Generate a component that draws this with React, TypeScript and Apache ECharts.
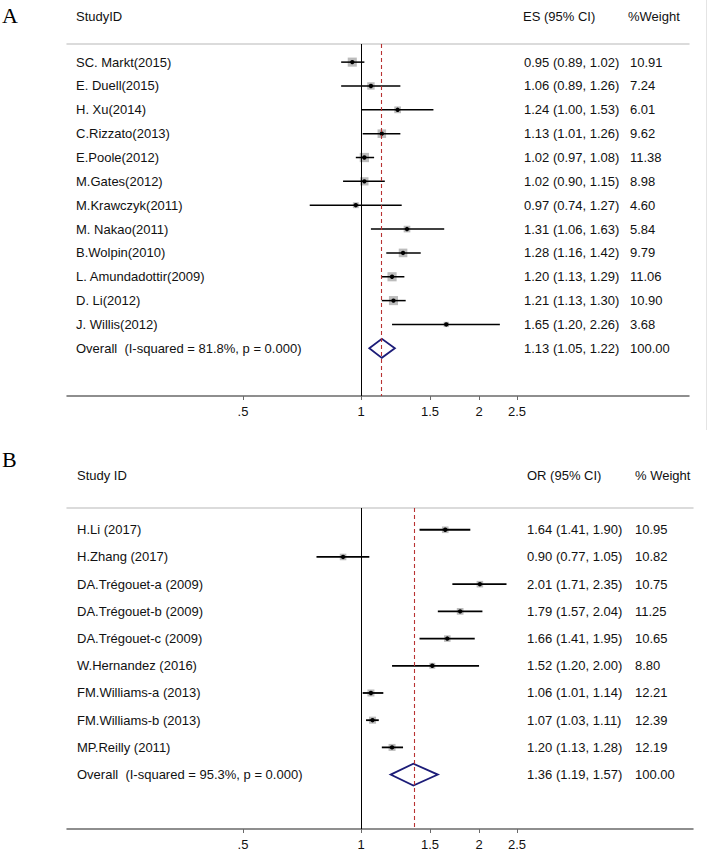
import { useEffect, useRef } from 'react';
import * as echarts from 'echarts';

// ---------- Panel A data ----------
const studiesA = [
  'SC. Markt(2015)',
  'E. Duell(2015)',
  'H. Xu(2014)',
  'C.Rizzato(2013)',
  'E.Poole(2012)',
  'M.Gates(2012)',
  'M.Krawczyk(2011)',
  'M. Nakao(2011)',
  'B.Wolpin(2010)',
  'L. Amundadottir(2009)',
  'D. Li(2012)',
  'J. Willis(2012)',
];
const esA = [0.95, 1.06, 1.24, 1.13, 1.02, 1.02, 0.97, 1.31, 1.28, 1.2, 1.21, 1.65];
const loA = [0.89, 0.89, 1.0, 1.01, 0.97, 0.9, 0.74, 1.06, 1.16, 1.13, 1.13, 1.2];
const hiA = [1.02, 1.26, 1.53, 1.26, 1.08, 1.15, 1.27, 1.63, 1.42, 1.29, 1.3, 2.26];
const weightA = [10.91, 7.24, 6.01, 9.62, 11.38, 8.98, 4.6, 5.84, 9.79, 11.06, 10.9, 3.68];
const overallLabelA = 'Overall  (I-squared = 81.8%, p = 0.000)';
const overallA = [1.13, 1.05, 1.22, 100.0];

// ---------- Panel B data ----------
const studiesB = [
  'H.Li (2017)',
  'H.Zhang (2017)',
  'DA.Trégouet-a (2009)',
  'DA.Trégouet-b (2009)',
  'DA.Trégouet-c (2009)',
  'W.Hernandez (2016)',
  'FM.Williams-a (2013)',
  'FM.Williams-b (2013)',
  'MP.Reilly (2011)',
];
const esB = [1.64, 0.9, 2.01, 1.79, 1.66, 1.52, 1.06, 1.07, 1.2];
const loB = [1.41, 0.77, 1.71, 1.57, 1.41, 1.2, 1.01, 1.03, 1.13];
const hiB = [1.9, 1.05, 2.35, 2.04, 1.95, 2.0, 1.14, 1.11, 1.28];
const weightB = [10.95, 10.82, 10.75, 11.25, 10.65, 8.8, 12.21, 12.39, 12.19];
const overallLabelB = 'Overall  (I-squared = 95.3%, p = 0.000)';
const overallB = [1.36, 1.19, 1.57, 100.0];

// ---------- axis ticks ----------
const tickValues = [0.5, 1, 1.5, 2, 2.5];
const tickLabels = ['.5', '1', '1.5', '2', '2.5'];

const FONT = '"Liberation Sans", Arial, Helvetica, sans-serif';
const TEXT_COLOR = '#111111';

type Row = {
  label: string;
  es: number;
  lo: number;
  hi: number;
  w: number;
  overall: boolean;
};

function buildRows(
  studies: string[],
  es: number[],
  lo: number[],
  hi: number[],
  w: number[],
  ovLabel: string,
  ov: number[]
): Row[] {
  const rows: Row[] = studies.map((s, i) => ({
    label: s,
    es: es[i],
    lo: lo[i],
    hi: hi[i],
    w: w[i],
    overall: false,
  }));
  rows.push({ label: ovLabel, es: ov[0], lo: ov[1], hi: ov[2], w: ov[3], overall: true });
  return rows;
}

function txt(text: string, x: number, y: number) {
  return {
    type: 'text',
    style: {
      text,
      x,
      y,
      fill: TEXT_COLOR,
      fontSize: 13,
      fontFamily: FONT,
      align: 'left',
      verticalAlign: 'middle',
      textAlign: 'left',
      textVerticalAlign: 'middle',
    },
  };
}

function makeRenderItem(
  rows: Row[],
  cfg: { labelX: number; esX: number; wX: number; boxK: number; ciWidth: number }
) {
  return (params: any, api: any) => {
    const row = rows[params.dataIndex];
    const i = api.value(0);
    const cs = params.coordSys;
    const pC = api.coord([api.value(1), i]);
    const pL = api.coord([api.value(2), i]);
    const pH = api.coord([api.value(3), i]);
    const y = pC[1];
    const children: any[] = [];
    children.push(txt(row.label, cs.x + cfg.labelX, y));
    children.push(
      txt(
        `${row.es.toFixed(2)} (${row.lo.toFixed(2)}, ${row.hi.toFixed(2)})`,
        cs.x + cfg.esX,
        y
      )
    );
    children.push(txt(row.w.toFixed(2), cs.x + cfg.wX, y));
    if (row.overall) {
      const h = api.size([0, 0.4])[1];
      children.push({
        type: 'polygon',
        shape: {
          points: [
            [pL[0], y],
            [pC[0], y - h],
            [pH[0], y],
            [pC[0], y + h],
          ],
        },
        style: { fill: 'none', stroke: '#1c1c78', lineWidth: 1.8 },
      });
    } else {
      const s = cfg.boxK * Math.sqrt(api.value(4));
      children.push({
        type: 'rect',
        shape: { x: pC[0] - s / 2, y: y - s / 2, width: s, height: s },
        style: { fill: '#bcbcbc' },
      });
      children.push({
        type: 'line',
        shape: { x1: pL[0], y1: y, x2: pH[0], y2: y },
        style: { stroke: '#000', lineWidth: cfg.ciWidth },
      });
      children.push({
        type: 'circle',
        shape: { cx: pC[0], cy: y, r: 2.2 },
        style: { fill: '#000' },
      });
    }
    return { type: 'group', children };
  };
}

const LN_MIN = -1.7264;
const LN_MAX_A = 1.926;
const LN_MAX_B = 1.9495;

function bottomAxis(gridIndex: number, max: number) {
  const lnTicks = tickValues.map((v) => Math.log(v));
  return {
    type: 'value',
    gridIndex,
    position: 'bottom',
    min: LN_MIN,
    max,
    splitLine: { show: false },
    axisLine: { show: true, onZero: false, lineStyle: { color: '#6a6a6a', width: 1.5 } },
    axisTick: {
      show: true,
      customValues: lnTicks,
      length: 4,
      lineStyle: { color: '#6a6a6a', width: 1 },
    },
    axisLabel: {
      show: true,
      customValues: lnTicks,
      margin: 9,
      color: TEXT_COLOR,
      fontSize: 13,
      fontFamily: FONT,
      formatter: (v: number) => {
        const k = lnTicks.findIndex((t) => Math.abs(t - v) < 1e-6);
        return k >= 0 ? tickLabels[k] : '';
      },
    },
  };
}

function topAxis(gridIndex: number, max: number) {
  return {
    type: 'value',
    gridIndex,
    position: 'top',
    min: LN_MIN,
    max,
    splitLine: { show: false },
    axisLine: { show: true, onZero: false, lineStyle: { color: '#cfcfcf', width: 1.5 } },
    axisTick: { show: false },
    axisLabel: { show: false },
  };
}

function seriesFor(
  rows: Row[],
  xAxisIndex: number,
  yAxisIndex: number,
  cfg: { labelX: number; esX: number; wX: number; boxK: number; ciWidth: number }
) {
  const overall = rows[rows.length - 1];
  return {
    type: 'custom',
    xAxisIndex,
    yAxisIndex,
    clip: false,
    silent: true,
    renderItem: makeRenderItem(rows, cfg),
    encode: { x: [1, 2, 3], y: 0 },
    data: rows.map((r, i) => [i, Math.log(r.es), Math.log(r.lo), Math.log(r.hi), r.w]),
    markLine: {
      silent: true,
      symbol: ['none', 'none'],
      label: { show: false },
      animation: false,
      data: [
        { xAxis: 0, lineStyle: { color: '#000', width: 1, type: 'solid' } },
        {
          xAxis: Math.log(overall.es),
          lineStyle: { color: '#b83232', width: 1.1, type: [4, 3] },
        },
      ],
    },
  };
}

export default function App() {
  const ref = useRef<HTMLDivElement>(null);
  useEffect(() => {
    if (!ref.current) return;
    const chart = echarts.init(ref.current, undefined, { renderer: 'svg' });
    const rowsA = buildRows(studiesA, esA, loA, hiA, weightA, overallLabelA, overallA);
    const rowsB = buildRows(studiesB, esB, loB, hiB, weightB, overallLabelB, overallB);
    const headerStyle = (text: string) => ({
      text,
      fill: TEXT_COLOR,
      fontSize: 13,
      fontFamily: FONT,
      align: 'left',
      verticalAlign: 'middle',
      textAlign: 'left',
      textVerticalAlign: 'middle',
    });
    const bigStyle = (text: string) => ({
      text,
      fill: '#000',
      fontSize: 22,
      fontFamily: '"Liberation Serif", "Times New Roman", serif',
      align: 'left',
      verticalAlign: 'middle',
      textAlign: 'left',
      textVerticalAlign: 'middle',
    });
    chart.setOption({
      animation: false,
      backgroundColor: '#ffffff',
      grid: [
        { left: 67, top: 44, width: 622, height: 352 },
        { left: 67, top: 508, width: 626, height: 321 },
      ],
      xAxis: [
        bottomAxis(0, LN_MAX_A),
        topAxis(0, LN_MAX_A),
        bottomAxis(1, LN_MAX_B),
        topAxis(1, LN_MAX_B),
      ],
      yAxis: [
        { type: 'value', gridIndex: 0, inverse: true, min: -0.76, max: 14, show: false },
        { type: 'value', gridIndex: 1, inverse: true, min: -0.8, max: 11, show: false },
      ],
      graphic: [
        { type: 'text', x: 2, y: 15, style: bigStyle('A') },
        { type: 'text', x: 76, y: 16, style: headerStyle('StudyID') },
        { type: 'text', x: 523, y: 16, style: headerStyle('ES (95% CI)') },
        { type: 'text', x: 628, y: 16, style: headerStyle('%Weight') },
        { type: 'text', x: 2, y: 459, style: bigStyle('B') },
        { type: 'text', x: 77, y: 475, style: headerStyle('Study ID') },
        { type: 'text', x: 527, y: 475, style: headerStyle('OR (95% CI)') },
        { type: 'text', x: 635, y: 475, style: headerStyle('% Weight') },
        {
          type: 'line',
          shape: { x1: 706.5, y1: 0, x2: 706.5, y2: 430 },
          style: { stroke: '#e4e4e4', lineWidth: 1 },
        },
      ],
      series: [
        seriesFor(rowsA, 0, 0, { labelX: 9, esX: 457, wX: 563, boxK: 2.75, ciWidth: 1.5 }),
        seriesFor(rowsB, 2, 1, { labelX: 10, esX: 460, wX: 568, boxK: 2.0, ciWidth: 1.8 }),
      ],
    });
    return () => chart.dispose();
  }, []);
  return (
    <div
      ref={ref}
      style={{ position: 'fixed', left: 0, top: 0, width: 709, height: 852, background: '#fff' }}
    />
  );
}
